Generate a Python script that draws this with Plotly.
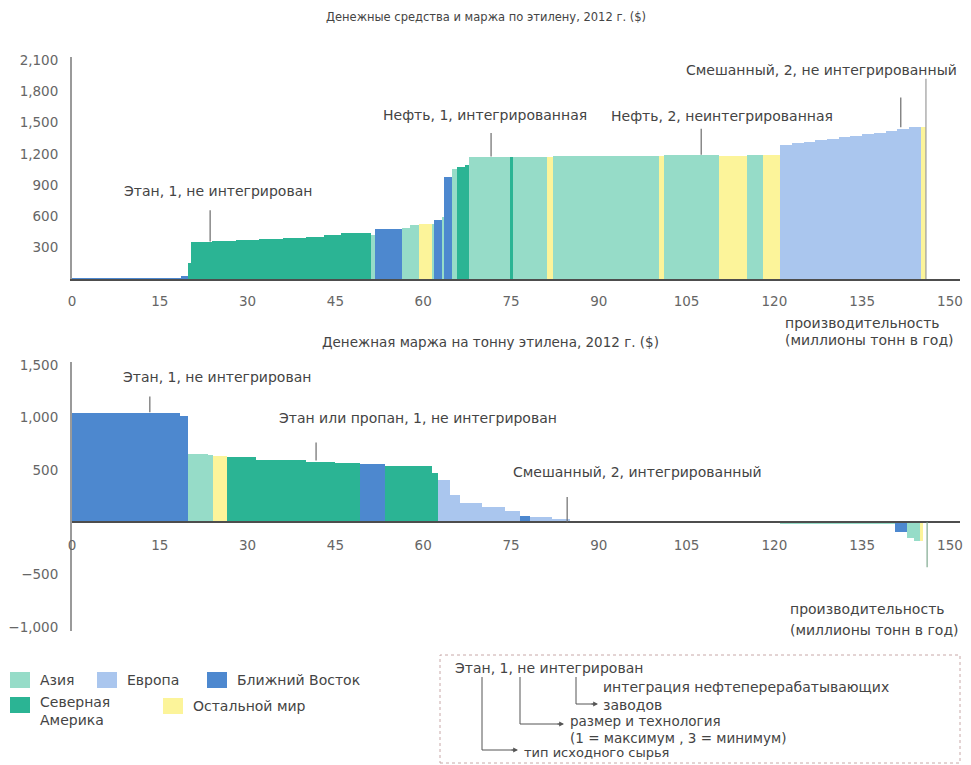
import plotly.graph_objects as go

# page body has an 8px margin, so the figure is drawn 8px in from the corner
OX, OY = 8, 8
W, H = 971 - OX, 765 - OY
FONT = "DejaVu Sans"

# regions: Asia, Europe, Middle East, North America, rest of world
regions = ["AS", "EU", "ME", "NA", "RW"]
region_names = ["Азия", "Европа", "Ближний Восток", "Северная<br>Америка", "Остальной мир"]
region_colors = ["#96dcc8", "#aac6ee", "#4d88cf", "#2bb494", "#fcf49a"]

# top chart: cash cost, cumulative capacity edges (Mt/yr)
top_edges = [0, 18.7, 19.9, 20.3, 24, 28, 32, 36, 40, 43, 46, 51, 51.8, 56.3, 57.7, 59.2,
             61.5, 61.8, 63.2, 63.6, 64.9, 65.7, 67.1, 67.9, 75.0, 75.3, 81.2, 82.2, 100.3,
             101.2, 110.5, 115.3, 118.0, 121.0, 123, 125, 127, 129, 131, 133, 135, 137, 139,
             141, 143, 145.0, 145.9]
top_cost = [15, 30, 160, 360, 368, 375, 382, 392, 405, 425, 442, 420, 480, 495, 520, 525,
            530, 565, 600, 975, 1060, 1080, 1090, 1170, 1170, 1175, 1175, 1185, 1185, 1190,
            1185, 1190, 1195, 1290, 1305, 1318, 1330, 1345, 1360, 1375, 1390, 1405, 1420,
            1440, 1455, 1455]
top_region = ["ME", "ME", "NA", "NA", "NA", "NA", "NA", "NA", "NA", "NA", "NA", "AS", "ME",
              "AS", "AS", "RW", "AS", "ME", "AS", "ME", "AS", "NA", "NA", "AS", "NA", "AS",
              "RW", "AS", "RW", "AS", "RW", "AS", "RW", "EU", "EU", "EU", "EU", "EU", "EU",
              "EU", "EU", "EU", "EU", "EU", "EU", "RW"]

# bottom chart: cash margin per tonne
bot_edges = [0, 18.5, 19.9, 23.3, 24.1, 26.4, 31.5, 40, 45, 49.2, 53.5, 61.5, 62.6, 64.6,
             66.3, 70, 74, 76.5, 78.2, 82, 85, 88.5, 121, 135, 140.6, 142.6, 143.8, 144.9,
             145.4]
bot_margin = [1045, 1010, 655, 645, 635, 620, 595, 580, 565, 555, 540, 470, 400, 260, 185,
              150, 110, 60, 50, 35, 15, 3, -10, -18, -95, -150, -180, -180]
bot_region = ["ME", "ME", "AS", "AS", "RW", "NA", "NA", "NA", "NA", "ME", "NA", "NA", "EU",
              "EU", "EU", "EU", "EU", "ME", "EU", "EU", "EU", "AS", "AS", "AS", "ME", "AS",
              "AS", "RW"]

x_ticks = [0, 15, 30, 45, 60, 75, 90, 105, 120, 135, 150]
top_yticks = [300, 600, 900, 1200, 1500, 1800, 2100]
bot_yticks = [-1000, -500, 500, 1000, 1500]

# label: text, x centre (px), y (px), pointer x (Mt), pointer from, pointer to
top_labels = [
    ("Этан, 1, не интегрирован", 218, 191, 23.6, 360, 660),
    ("Нефть, 1, интегрированная", 485, 115, 71.6, 1175, 1400),
    ("Нефть, 2, неинтегрированная", 722, 116, 107.5, 1190, 1440),
    ("Смешанный, 2, не интегрированный", 821, 70, 141.6, 1455, 1740),
]
bot_labels = [
    ("Этан, 1, не интегрирован", 217, 377, 13.3, 1050, 1200),
    ("Этан или пропан, 1, не интегрирован", 418, 418, 41.7, 590, 760),
    ("Смешанный, 2, интегрированный", 637, 472, 84.6, 0, 240),
]


def px(x):
    return (x - OX) / W


def py(y):
    return 1 - (y - OY) / H


fig = go.Figure()


def add_steps(edges, values, regs, xa, ya):
    for code, color in zip(regions, region_colors):
        idx = [i for i, r in enumerate(regs) if r == code]
        fig.add_trace(go.Bar(
            x=[(edges[i] + edges[i + 1]) / 2 for i in idx],
            y=[values[i] for i in idx],
            width=[edges[i + 1] - edges[i] for i in idx],
            marker=dict(color=color, line=dict(width=0)),
            xaxis=xa, yaxis=ya, showlegend=False, hoverinfo="skip",
        ))


add_steps(top_edges, top_cost, top_region, "x", "y")
add_steps(bot_edges, bot_margin, bot_region, "x2", "y2")

scale = 5.853  # px per Mt
xr = [0, (960 - 72) / scale]
tick_font = dict(family=FONT, size=13.5, color="#666")

common_x = dict(domain=[px(72), px(960)], range=xr, tickvals=x_ticks, showgrid=False,
                zeroline=False, showline=True, linecolor="#4d4d4d", linewidth=2,
                ticks="", tickfont=tick_font, fixedrange=True, automargin=False)
common_y = dict(showgrid=False, zeroline=False, showline=True, linecolor="#9a9a9a",
                linewidth=2, ticks="", tickformat=",", tickfont=tick_font,
                ticklabelstandoff=9, fixedrange=True, automargin=False)

fig.update_layout(
    width=W, height=H, margin=dict(l=0, r=0, t=0, b=0),
    paper_bgcolor="white", plot_bgcolor="rgba(0,0,0,0)",
    barmode="overlay", bargap=0, showlegend=False,
    font=dict(family=FONT, color="#444"),
    xaxis=dict(common_x, anchor="y", ticklabelstandoff=9),
    yaxis=dict(common_y, domain=[py(279), py(56.8)], range=[0, 2130],
               tickvals=top_yticks, anchor="x"),
    xaxis2=dict(common_x, anchor="free", position=py(522.2), ticklabelstandoff=11),
    yaxis2=dict(common_y, domain=[py(631.2), py(361.9)], range=[-1040, 1530],
                tickvals=bot_yticks, anchor="x2"),
)


def text(t, x, y, anchor="center", size=14):
    fig.add_annotation(text=t, x=px(x), y=py(y), xref="paper", yref="paper",
                       xanchor=anchor, yanchor="middle", showarrow=False,
                       align="left" if anchor == "left" else "center",
                       font=dict(family=FONT, size=size, color="#444"))


def vline(xa, ya, x, y0, y1, color="#6b6b6b"):
    fig.add_shape(type="line", xref=xa, yref=ya, x0=x, x1=x, y0=y0, y1=y1,
                  line=dict(color=color, width=1.2))


# titles
text("Денежные средства и маржа по этилену, 2012 г. ($)", 486, 17, size=11.5)
text("Денежная маржа на тонну этилена, 2012 г. ($)", 490, 342, size=13.5)

for t, x, y, xm, v0, v1 in top_labels:
    text(t, x, y)
    vline("x", "y", xm, v0, v1)
for t, x, y, xm, v0, v1 in bot_labels:
    text(t, x, y)
    vline("x2", "y2", xm, v0, v1)

vline("x", "y", 145.9, 0, 1920, "#9a9a9a")
vline("x2", "y2", 146.1, 0, -430, "#7fa98f")

text("производительность", 783, 323, anchor="left", size=14)
text("(миллионы тонн в год)", 783, 340, anchor="left", size=14)
text("производительность", 788, 609, anchor="left", size=14)
text("(миллионы тонн в год)", 788, 630, anchor="left", size=14)

# legend
legend_pos = [(10, 680), (97, 680), (207, 680), (10, 705), (163, 706)]
for (lx, ly), name, color in zip(legend_pos, region_names, region_colors):
    fig.add_shape(type="rect", xref="paper", yref="paper", x0=px(lx), x1=px(lx + 20),
                  y0=py(ly + 8), y1=py(ly - 8), fillcolor=color, line=dict(width=0))
    text(name, lx + 28, ly + (6 if "<br>" in name else 0), anchor="left", size=14)

# key box
fig.add_shape(type="rect", xref="paper", yref="paper", x0=px(440), x1=px(960),
              y0=py(763), y1=py(655), line=dict(color="#c8a8a8", width=1, dash="dot"))
text("Этан, 1, не интегрирован", 453, 668, anchor="left", size=14)
key_arrows = [(482, 750, 518), (520, 724, 564), (576, 704, 598)]
for kx, ky, tip in key_arrows:
    fig.add_shape(type="path", xref="paper", yref="paper",
                  path=f"M {px(kx)},{py(677)} L {px(kx)},{py(ky)} L {px(tip - 4)},{py(ky)}",
                  line=dict(color="#555", width=1))
    fig.add_annotation(x=px(tip), y=py(ky), xref="paper", yref="paper", text="",
                       showarrow=True, ax=-8, ay=0, arrowhead=2, arrowsize=0.8,
                       arrowwidth=1.2, arrowcolor="#555")
text("интеграция нефтеперерабатывающих", 601, 687, anchor="left", size=14)
text("заводов", 601, 705, anchor="left", size=14)
text("размер и технология", 568, 721, anchor="left", size=13.5)
text("(1 = максимум , 3 = минимум)", 568, 738, anchor="left", size=13.5)
text("тип исходного сырья", 522, 752, anchor="left", size=13)

fig.write_html("out.html")
